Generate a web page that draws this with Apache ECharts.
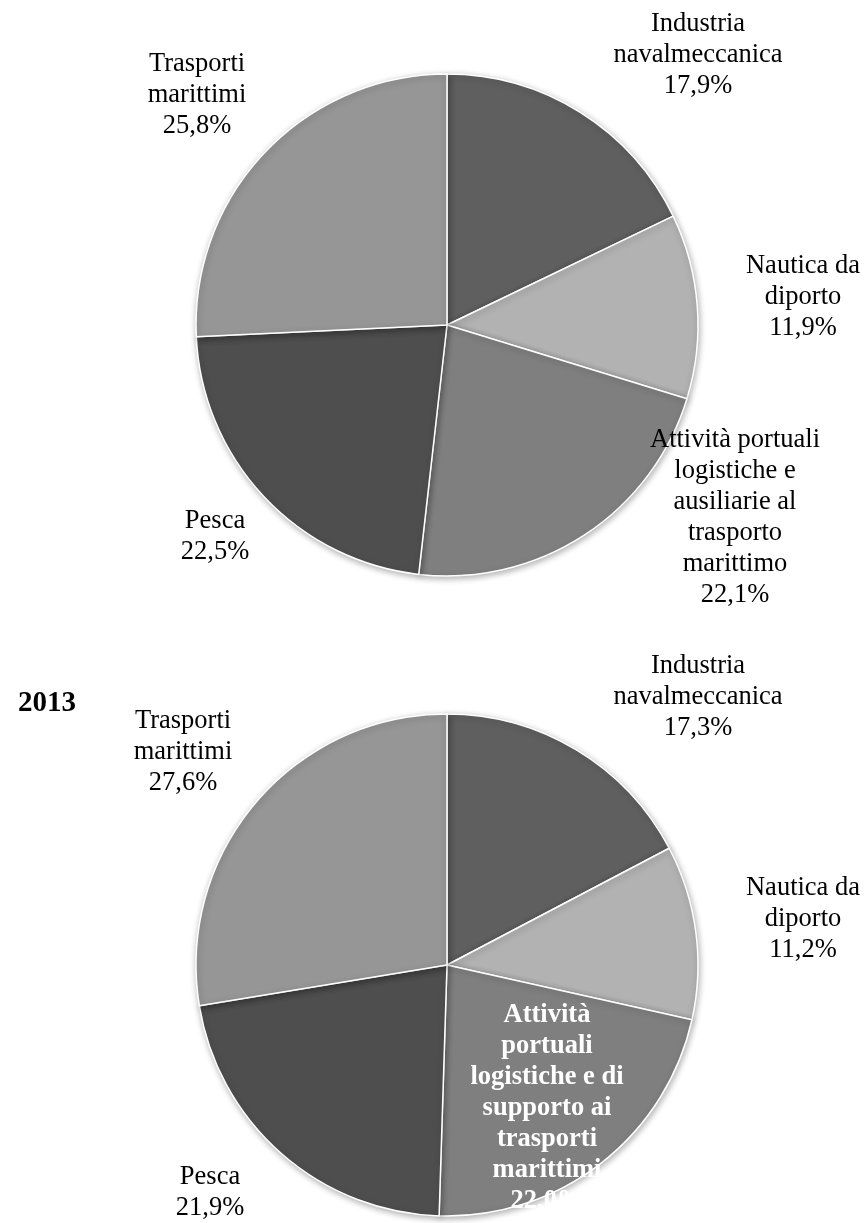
<!DOCTYPE html>
<html>
<head>
<meta charset="utf-8">
<script src="https://cdn.jsdelivr.net/npm/echarts@6/dist/echarts.min.js"></script>
<style>
html,body{margin:0;padding:0;background:#fff;}
#chart{width:867px;height:1223px;}
</style>
</head>
<body>
<div id="chart"></div>
<script>
// ---- data ----
const categoriesTop = [
  "Industria\nnavalmeccanica",
  "Nautica da\ndiporto",
  "Attività portuali\nlogistiche e\nausiliarie al\ntrasporto\nmarittimo",
  "Pesca",
  "Trasporti\nmarittimi"
];
const valuesTop = [17.9, 11.9, 22.1, 22.5, 25.8];

const categoriesBottom = [
  "Industria\nnavalmeccanica",
  "Nautica da\ndiporto",
  "Attività\nportuali\nlogistiche e di\nsupporto ai\ntrasporti\nmarittimi",
  "Pesca",
  "Trasporti\nmarittimi"
];
const valuesBottom = [17.3, 11.2, 22.0, 21.9, 27.6];
const yearLabel = "2013";

// ---- styles / layout ----
const sliceColors = ['#5f5f5f', '#b2b2b2', '#7f7f7f', '#4e4e4e', '#969696'];
const labelAnchors = [
  [[698, 55], [803, 297], [735, 518], [215, 537], [197, 95]],
  [[698, 697], [803, 919], [547, 1108], [210, 1193], [183, 752]]
];
const fontFam = '"Liberation Serif", "Times New Roman", serif';

function fmt(v) { return v.toFixed(1).replace('.', ',') + '%'; }

function buildData(names, values, whiteIdx) {
  return names.map((n, i) => {
    const item = { name: n, value: values[i], itemStyle: { color: sliceColors[i] } };
    if (i === whiteIdx) {
      item.label = { color: '#ffffff', fontWeight: 'bold' };
    }
    return item;
  });
}

function pieSeries(center, data, idx) {
  return {
    type: 'pie',
    center: center,
    radius: 251,
    startAngle: 90,
    clockwise: true,
    avoidLabelOverlap: false,
    silent: true,
    animation: false,
    itemStyle: {
      borderColor: '#ffffff',
      borderWidth: 1.5,
      shadowBlur: 6,
      shadowColor: 'rgba(0,0,0,0.3)',
      shadowOffsetX: 1,
      shadowOffsetY: 2
    },
    label: {
      show: true,
      position: 'outside',
      formatter: p => p.name + '\n' + fmt(p.value),
      fontFamily: fontFam,
      fontSize: 26.5,
      lineHeight: 31,
      color: '#000000',
      align: 'center'
    },
    labelLine: { show: false },
    labelLayout: function (params) {
      const a = labelAnchors[idx][params.dataIndex];
      return { x: a[0], y: a[1], align: 'center', verticalAlign: 'middle' };
    },
    data: data
  };
}

const chart = echarts.init(document.getElementById('chart'), null, { renderer: 'canvas' });
chart.setOption({
  backgroundColor: '#ffffff',
  animation: false,
  title: {
    text: yearLabel,
    left: 13,
    top: 684,
    textStyle: { fontFamily: fontFam, fontSize: 29, fontWeight: 'bold', color: '#000' }
  },
  series: [
    pieSeries([447, 325], buildData(categoriesTop, valuesTop, -1), 0),
    pieSeries([447, 965], buildData(categoriesBottom, valuesBottom, 2), 1)
  ]
});
</script>
</body>
</html>
